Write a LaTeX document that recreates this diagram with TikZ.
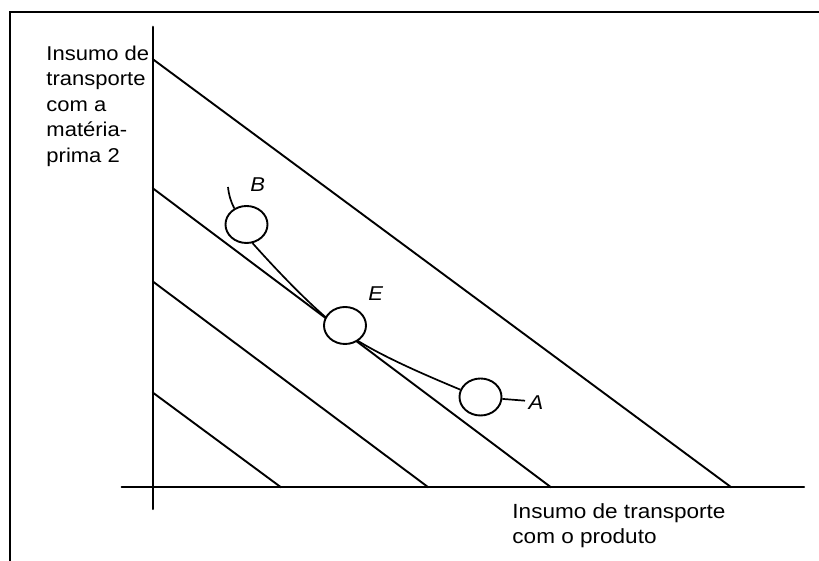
\documentclass[tikz,border=0pt]{standalone}
\usepackage{fontspec}
\setmainfont{Liberation Sans}[FakeStretch=1.1]
\usepackage{tikz}
\usetikzlibrary{shapes.geometric}
\usepackage{tkz-euclide}

\begin{document}
\begin{tikzpicture}[x=1pt, y=1pt, line width=1.9pt,
                    ring/.style={ellipse, draw, fill=white, minimum width=42pt, minimum height=37pt, inner sep=0pt},
                    axtext/.style={anchor=north west, align=left, inner sep=0pt, font=\fontsize{20}{25.5}\selectfont},
                    tag/.style={inner sep=0pt, font=\fontsize{20}{24}\selectfont\itshape}]
                        \clip (0,0) rectangle (819,561);
                        \draw[line width=2.8pt] (10,-10) -- (10,549) -- (830,549);
                        \tkzDefPoints{152.7/534.2/T, 152.7/52/O, 121.7/73.7/L, 804/73.7/R}
                        \tkzDefPoints{152.7/501.9/Y1, 731.3/73.7/X1, 152.7/372.8/Y2, 551/73.7/X2}
                        \tkzDefPoints{152.7/279.6/Y3, 428.3/73.7/X3, 152.7/168.5/Y4, 281/73.7/X4}
                        \tkzDefPoint(340,232.1){tE}
                        \tkzDrawSegments[black, line width=2.1pt](T,O L,R)
                        \tkzDrawSegments[black, line width=1.9pt](Y1,X1 Y2,X2 Y3,X3 Y4,X4)
                        \node[ring] (circB) at (246.5,336.5) {};
                        \node[ring] (circA) at (480.5,164) {};
                        \draw[line width=1.7pt] (circB.-72) .. controls (274.7,293) and (312,253.2) .. (tE) .. controls (370,209.6) and (419.3,188.5) .. (circA.160);
                        \node[ring] (circE) at (345,235.5) {};
                        \coordinate (tipB) at (228,374);
                        \coordinate (tipA) at (525,160.3);
                        \draw[line width=1.7pt] (circB.127) to[bend left=10] (tipB);
                        \draw[line width=1.7pt] (circA.-5) -- (tipA);
                        \node[tag] (labB) at (257.7,376) {B};
                        \node[tag] (labE) at (375.7,267.7) {E};
                        \node[tag] (labA) at (536,158.3) {A};
                        \node[axtext] (ylab) at (45.5,516.3) {Insumo de\\transporte\\com a\\matéria-\\prima 2};
                        \node[axtext, font=\fontsize{20.5}{25}\selectfont] (xlab) at (511.5,58.5) {Insumo de transporte\\com o produto};
                    \end{tikzpicture}
\end{document}
